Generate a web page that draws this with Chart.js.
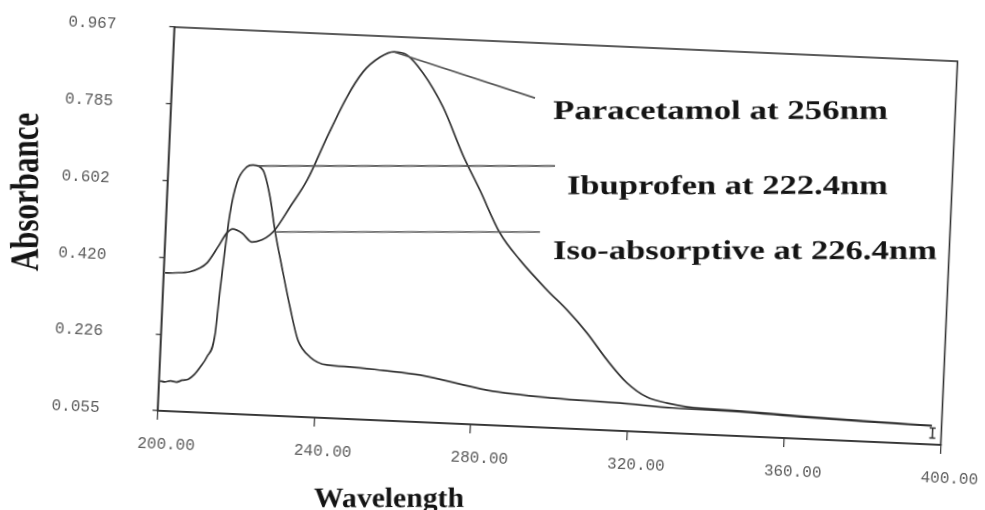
<!DOCTYPE html>
<html><head><meta charset="utf-8">
<script src="https://cdn.jsdelivr.net/npm/chart.js@4.4.1/dist/chart.umd.min.js"></script>
<style>
html,body{margin:0;padding:0;background:#fff;width:985px;height:510px;overflow:hidden;position:relative;}
#c{position:absolute;left:0;top:0;transform-origin:557.5px 236px;transform:rotate(2.5deg);}
</style></head><body>
<canvas id="c" width="1040" height="560"></canvas>
<script>
const xTickLabels = ['200.00','240.00','280.00','320.00','360.00','400.00'];
const yTickLabels = ['0.055','0.226','0.420','0.602','0.785','0.967'];
const xMin = 200, xMax = 400, xStep = 40;
const yMin = 0.055, yMax = 0.967;

const ibuprofenWavelength = [200.3,201.5,203,204.5,206,207.5,209,210.4,212.0,213.8,214.6,215.4,216.3,217.7,220.1,221.6,224.2,226.3,227.9,230.1,232.6,235.0,238.3,242.7,248.6,257,266.5,283.8,300.7,317.8,331.4,348.5,363.8,380,397.5];
const ibuprofenAbsorbance  = [0.126,0.124,0.127,0.125,0.130,0.133,0.145,0.163,0.188,0.241,0.348,0.443,0.532,0.604,0.643,0.648,0.637,0.574,0.496,0.409,0.315,0.237,0.198,0.181,0.179,0.174,0.167,0.138,0.126,0.121,0.115,0.113,0.107,0.103,0.099];

const paracetamolWavelength = [200.4,203,206.7,209,211.0,213.6,215.7,217.2,219.6,222.2,224.7,226.7,227.9,231.5,235.6,240.2,244.8,248.6,252.8,256.3,259.6,263.9,269.4,275.0,279.7,285.3,290.7,297.9,303.3,308.6,314.0,319.3,324.6,329.8,334.9,348.5,363.8,380,397.5];
const paracetamolAbsorbance  = [0.383,0.384,0.388,0.397,0.411,0.450,0.484,0.494,0.485,0.465,0.471,0.484,0.496,0.552,0.618,0.722,0.819,0.880,0.917,0.931,0.925,0.884,0.805,0.693,0.612,0.512,0.450,0.382,0.336,0.284,0.222,0.170,0.138,0.126,0.119,0.115,0.109,0.104,0.100];

const annotationTexts = ['Paracetamol at 256nm','Ibuprofen at 222.4nm','Iso-absorptive at 226.4nm'];
const xTitle = 'Wavelength', yTitle = 'Absorbance';
const isoIndex = 12; // paracetamol point at the iso-absorptive crossing

const ANG = 2.5*Math.PI/180, CX = 557.5, CY = 236;
function toScreen(px,py){const dx=px-CX,dy=py-CY;return {x:CX+dx*Math.cos(ANG)-dy*Math.sin(ANG),y:CY+dx*Math.sin(ANG)+dy*Math.cos(ANG)};}
function screenSpace(ctx){ctx.translate(CX,CY);ctx.rotate(-ANG);ctx.translate(-CX,-CY);}
function argMax(a){let m=0;for(let i=1;i<a.length;i++) if(a[i]>a[m]) m=i;return m;}
function fitText(ctx,text,x,y,w,align){
  const m=ctx.measureText(text).width; const s=w/m;
  ctx.save(); ctx.translate(x,y); ctx.scale(s,1);
  ctx.textAlign=align||'left'; ctx.fillText(text,0,0); ctx.restore();
}
function zeroPad(s){s.paddingTop=0;s.paddingBottom=0;s.paddingLeft=0;s.paddingRight=0;}

const overlay = {
  id:'overlay',
  afterDraw(chart){
    const {ctx, chartArea:a} = chart;
    const xs=chart.scales.x, ys=chart.scales.y;
    ctx.save();
    ctx.strokeStyle='#333'; ctx.lineWidth=1.6;
    ctx.strokeRect(a.left,a.top,a.right-a.left,a.bottom-a.top);
    // end-of-scan marker
    const lw=ibuprofenWavelength[ibuprofenWavelength.length-1];
    const ex=xs.getPixelForValue(lw)+1, ey=ys.getPixelForValue(ibuprofenAbsorbance[ibuprofenAbsorbance.length-1]);
    ctx.lineWidth=1.5;
    ctx.beginPath();
    ctx.moveTo(ex,ey+2); ctx.lineTo(ex,ey+12);
    ctx.moveTo(ex-3,ey+2); ctx.lineTo(ex+3,ey+2);
    ctx.moveTo(ex-3,ey+12); ctx.lineTo(ex+3,ey+12);
    ctx.stroke();
    ctx.restore();

    const pi=argMax(paracetamolAbsorbance), ii=argMax(ibuprofenAbsorbance);
    const pPeak=toScreen(xs.getPixelForValue(paracetamolWavelength[pi]),ys.getPixelForValue(paracetamolAbsorbance[pi]));
    const iPeak=toScreen(xs.getPixelForValue(ibuprofenWavelength[ii]),ys.getPixelForValue(ibuprofenAbsorbance[ii]));
    const iso=toScreen(xs.getPixelForValue(paracetamolWavelength[isoIndex]),ys.getPixelForValue(paracetamolAbsorbance[isoIndex]));

    ctx.save();
    screenSpace(ctx);
    ctx.strokeStyle='#555'; ctx.lineWidth=1.6;
    ctx.beginPath();
    ctx.moveTo(pPeak.x,pPeak.y); ctx.lineTo(535,98);
    ctx.moveTo(iPeak.x+4,iPeak.y+1); ctx.lineTo(555,iPeak.y+1);
    ctx.moveTo(iso.x,iso.y+2); ctx.lineTo(540,iso.y+2);
    ctx.stroke();

    ctx.fillStyle='#141414';
    ctx.font='bold 27px "Liberation Serif"';
    ctx.textBaseline='alphabetic';
    fitText(ctx,annotationTexts[0],553,119,335);
    fitText(ctx,annotationTexts[1],567,194,321);
    fitText(ctx,annotationTexts[2],553,259,384);

    ctx.font='bold 28px "Liberation Serif"';
    fitText(ctx,xTitle,389,507,150,'center');

    ctx.save();
    ctx.translate(38,192); ctx.scale(1.3,1); ctx.rotate(-Math.PI/2);
    ctx.font='bold 31px "Liberation Serif"';
    ctx.textAlign='center'; ctx.textBaseline='alphabetic';
    ctx.fillText(yTitle,0,0);
    ctx.restore();
    ctx.restore();
  }
};

const mk=(xsArr,ysArr)=>xsArr.map((x,i)=>({x:x,y:ysArr[i]}));

new Chart(document.getElementById('c'),{
  type:'line',
  data:{datasets:[
    {label:'Paracetamol',data:mk(paracetamolWavelength,paracetamolAbsorbance),borderColor:'#333',borderWidth:1.7,pointRadius:0,cubicInterpolationMode:'monotone',fill:false},
    {label:'Ibuprofen',data:mk(ibuprofenWavelength,ibuprofenAbsorbance),borderColor:'#333',borderWidth:1.7,pointRadius:0,cubicInterpolationMode:'monotone',fill:false}
  ]},
  options:{
    responsive:false, animation:false, devicePixelRatio:1,
    layout:{padding:{left:0,top:44,right:90.5,bottom:50}},
    plugins:{legend:{display:false},tooltip:{enabled:false}},
    scales:{
      x:{type:'linear',min:xMin,max:xMax,
        afterFit(s){s.height=82;zeroPad(s);},
        ticks:{stepSize:xStep,labelOffset:10,padding:15,color:'#5c5c5c',font:{family:'"Liberation Mono"',size:16},callback:(v,i)=>xTickLabels[i]},
        grid:{display:true,drawOnChartArea:false,drawTicks:true,tickLength:9,color:'#444',lineWidth:1.3},
        border:{display:true,color:'#333',width:1.6}},
      y:{type:'linear',min:yMin,max:yMax,
        afterFit(s){s.width=165.5;zeroPad(s);},
        afterBuildTicks(s){s.ticks=yTickLabels.map((_,i)=>({value:yMin+i*(yMax-yMin)/(yTickLabels.length-1)}));},
        ticks:{padding:53,color:'#5c5c5c',font:{family:'"Liberation Mono"',size:16},callback:(v,i)=>yTickLabels[i]},
        grid:{display:true,drawOnChartArea:false,drawTicks:true,tickLength:5,color:'#444',lineWidth:1.3},
        border:{display:true,color:'#333',width:1.6}}
    }
  },
  plugins:[overlay]
});
</script>
</body></html>
